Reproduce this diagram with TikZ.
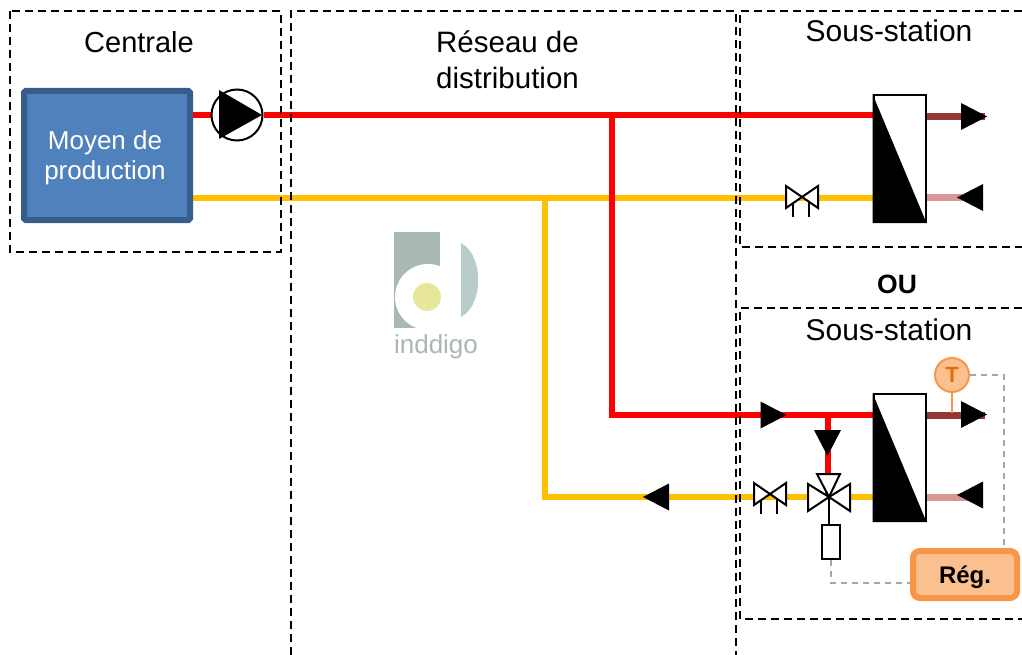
\documentclass[tikz,border=0pt]{standalone}
\usepackage{fontspec}
\setmainfont{Liberation Sans}
\usetikzlibrary{backgrounds}
\definecolor{hotred}{HTML}{FF0000}
\definecolor{coldyellow}{HTML}{FFC000}
\definecolor{darkred}{HTML}{953735}
\definecolor{lightred}{HTML}{D99694}
\definecolor{blockfill}{HTML}{4F81BD}
\definecolor{blockline}{HTML}{385D8A}
\definecolor{regline}{HTML}{F79646}
\definecolor{regfill}{HTML}{FAC090}
\definecolor{tletter}{HTML}{E46C0A}
\definecolor{signalgrey}{HTML}{A6A6A6}
\definecolor{logogrey}{HTML}{A9B7B5}
\definecolor{logoblue}{HTML}{B9CBCB}
\definecolor{logoyellow}{HTML}{E6E79A}
\tikzset{
  zone/.style={draw=black,line width=1.6pt,dash pattern=on 8pt off 5pt},
  title/.style={font=\fontsize{29}{36}\selectfont,align=center,inner sep=0pt},
  bigtitle/.style={font=\fontsize{30}{36}\selectfont,align=center,inner sep=0pt},
  hotpipe/.style={draw=hotred,line width=6pt},
  coldpipe/.style={draw=coldyellow,line width=6pt},
  hotout/.style={draw=darkred,line width=7pt},
  coldin/.style={draw=lightred,line width=7pt},
  signal/.style={draw=signalgrey,line width=1.5pt,dash pattern=on 6pt off 5pt},
  exchanger/.style={draw=black,line width=2pt,fill=white,minimum width=52pt,minimum height=127pt,inner sep=0pt},
  flowtip/.pic={\fill[black] (-13,-13.5) -- (13,0) -- (-13,13.5) -- cycle;},
  valve/.pic={
    \draw[black,line width=2pt] (-9,4) -- (-9,20) (7,4) -- (7,20);
    \draw[black,line width=2pt,fill=white] (-16,-11) -- (0,0) -- (-16,11) -- cycle;
    \draw[black,line width=2pt,fill=white] (16,-11) -- (0,0) -- (16,11) -- cycle;
  },
  threeway/.pic={
    \draw[black,line width=2pt,fill=white] (-21,-13) -- (0,0) -- (-21,14) -- cycle;
    \draw[black,line width=2pt,fill=white] (21,-13) -- (0,0) -- (21,14) -- cycle;
    \draw[black,line width=2pt,fill=white] (-12,-23) -- (0,0) -- (11,-23) -- cycle;
  }
}
\begin{document}
\begin{tikzpicture}[x=1pt,y=-1pt]
\useasboundingbox (0,0) rectangle (1022,655);

% zones
\draw[zone] (10,11) rectangle (281,252);
\draw[zone] (291,655) -- (291,11) -- (736,11) -- (736,655);
\draw[zone] (1022,11) -- (740,11) -- (740,247) -- (1022,247);
\draw[zone] (1022,308) -- (740,308) -- (740,619) -- (1022,619);

\node[title] (centrale) at (139,42) {Centrale};
\node[title,font=\fontsize{29.5}{36}\selectfont] (reseau) at (507.5,60) {Réseau de\\distribution};
\node[bigtitle] (stationA) at (889,31) {Sous-station};
\node[bigtitle] (stationB) at (889,330) {Sous-station};
\node[title,font=\fontsize{26.5}{30}\selectfont\bfseries] (ou) at (897,284) {OU};

% logo
\fill[logogrey] (394,232) rectangle (440,328);
\fill[white] (428,297) circle (33);
\fill[logoyellow] (427,297) circle (14);
\fill[logoblue] (461,243) .. controls (484,255) and (484,305) .. (461,317) -- cycle;
\node[text=logogrey,font=\fontsize{26}{30}\selectfont,inner sep=0pt] (logotext) at (436,347) {inddigo};

% equipment
\node[draw=blockline,line width=6pt,fill=blockfill,rounded corners=1.5pt,minimum width=166pt,minimum height=129pt,inner sep=0pt] (prod) at (107,155.5) {};
\node[text=white,align=center,inner sep=0pt,font=\fontsize{26}{30}\selectfont] (prodtext) at (105,158) {Moyen de\\production};
\node[draw=black,line width=2pt,fill=white,circle,minimum size=51pt,inner sep=0pt] (pump) at (237,115) {};
\fill[black] (219,90) -- (262,115) -- (219,139) -- cycle;

\node[exchanger] (hxA) at (899.5,158.5) {};
\fill[black] (hxA.north west) -- (hxA.south east) -- (hxA.south west) -- cycle;
\node[exchanger] (hxB) at (899.5,457.5) {};
\fill[black] (hxB.north west) -- (hxB.south east) -- (hxB.south west) -- cycle;

\coordinate (coldA) at (prod.east |- 0,198);
\coordinate (valveA) at (802,197);
\coordinate (hotTee) at (612,115);
\coordinate (coldTee) at (545,198);
\coordinate (hotB) at (hxB.west |- 0,415);
\coordinate (coldB) at (hxB.west |- 0,497);
\coordinate (hotDrop) at (828,415);
\coordinate (mixer) at (829,497);
\coordinate (valveB) at (770,494);

\node[draw=black,line width=2pt,fill=white,minimum width=18pt,minimum height=34pt,inner sep=0pt] (motor) at (831,542) {};
\node[draw=regline,line width=6pt,fill=regfill,rounded corners=7pt,minimum width=104pt,minimum height=47pt,inner sep=0pt,text depth=0pt,
  font=\fontsize{24}{28}\selectfont\bfseries] (reg) at (965,574.5) {Rég.};
\node[draw=regline,line width=2pt,fill=regfill,circle,minimum size=34pt,inner sep=0pt,text=tletter,
  font=\fontsize{22}{24}\selectfont\bfseries] (probe) at (952,375) {T};

% pipes
\begin{scope}[on background layer]
\draw[hotpipe] (prod.east |- pump) -- (pump.west);
\draw[hotpipe] (pump.east) -- (hxA.west |- pump);
\draw[coldpipe] (coldA) -- (hxA.west |- coldA);
\draw[hotpipe] (hotTee) |- (hotB);
\draw[coldpipe] (coldTee) |- (coldB);
\draw[hotpipe] (hotDrop) -- (mixer -| hotDrop);
\draw[hotout] (hxA.east |- 0,117) -- (985,117);
\draw[coldin] (hxA.east |- coldA) -- (975,198);
\draw[hotout] (hxB.east |- hotB) -- (985,415);
\draw[coldin] (hxB.east |- coldB) -- (975,497);
\end{scope}

% arrows on the pipes
\pic at (974,116.5) {flowtip};
\pic[rotate=180] at (970,197.5) {flowtip};
\pic at (974,414.5) {flowtip};
\pic[rotate=180] at (970,495) {flowtip};
\pic at (773.5,415) {flowtip};
\pic[rotate=-90] at (827.5,443) {flowtip};
\pic[rotate=180] at (656,497) {flowtip};

% valves
\pic at (valveA) {valve};
\pic at (valveB) {valve};
\draw[black,line width=2pt] (mixer) -- (motor.north -| mixer);
\pic at (mixer) {threeway};

% control
\draw[regline,line width=2pt] (probe.south) -- (probe.south |- 0,413);
\draw[signal] (probe.east) -- (1004,375) -- (1004,548);
\draw[signal] (motor.south) -- (motor.south |- 0,583) -- (reg.west |- 0,583);
\end{tikzpicture}
\end{document}
